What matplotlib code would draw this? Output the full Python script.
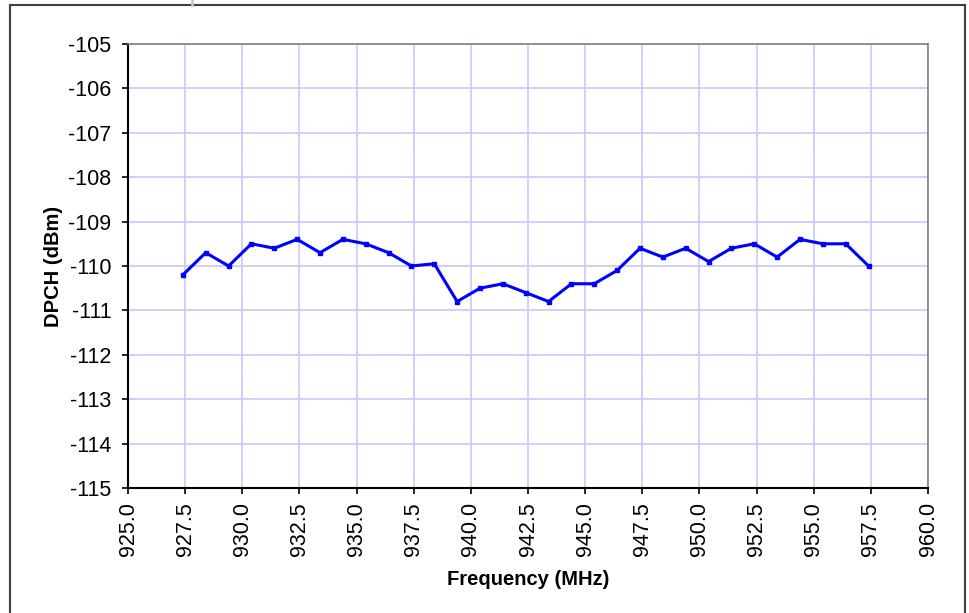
import numpy as np
import matplotlib
matplotlib.use('Agg')
import matplotlib.pyplot as plt
from matplotlib.lines import Line2D

# measured DPCH level vs frequency
freq = [927.4, 928.4, 929.4, 930.4, 931.4, 932.4, 933.4, 934.4, 935.4, 936.4,
        937.4, 938.4, 939.4, 940.4, 941.4, 942.4, 943.4, 944.4, 945.4, 946.4,
        947.4, 948.4, 949.4, 950.4, 951.4, 952.4, 953.4, 954.4, 955.4, 956.4,
        957.4]
dpch = [-110.2, -109.7, -110.0, -109.5, -109.6, -109.4, -109.7, -109.4, -109.5, -109.7,
        -110.0, -109.95, -110.8, -110.5, -110.4, -110.6, -110.8, -110.4, -110.4, -110.1,
        -109.6, -109.8, -109.6, -109.9, -109.6, -109.5, -109.8, -109.4, -109.5, -109.5,
        -110.0]

xticks = np.arange(925.0, 960.01, 2.5)
yticks = np.arange(-115, -104, 1)

plt.rcParams['font.family'] = ['Liberation Sans', 'DejaVu Sans']

W, H = 969, 613
fig = plt.figure(figsize=(W / 100, H / 100), dpi=100)
ax = fig.add_axes([128 / W, 1 - 488 / H, 800 / W, 444 / H])

ax.plot(freq, dpch, '-', color='#0000FF', lw=2.2, marker='s', ms=3.5, mec='#0000FF', mfc='#0000FF')

ax.set_xlim(925, 960)
ax.set_ylim(-115, -105)
ax.set_xticks(xticks)
ax.set_xticklabels(['%.1f' % v for v in xticks], rotation=90, fontsize=15.5)
ax.set_yticks(yticks)
ax.set_yticklabels(['%d' % v for v in yticks], fontsize=15.5)
ax.tick_params(direction='out', length=4, width=1.2, colors='black')
ax.tick_params(axis='y', pad=8)
ax.tick_params(axis='x', pad=6)
ax.grid(True, color='#CCCCFF', lw=1.3)
ax.set_axisbelow(True)

for s in ['top', 'right']:
    ax.spines[s].set_color('#808080')
    ax.spines[s].set_linewidth(1.2)
for s in ['left', 'bottom']:
    ax.spines[s].set_color('black')
    ax.spines[s].set_linewidth(1.5)

ax.set_xlabel('Frequency (MHz)', fontsize=14.5, fontweight='bold', labelpad=10)
ax.set_ylabel('DPCH (dBm)', fontsize=14.5, fontweight='bold', labelpad=4)

# chart area border
fig.add_artist(Line2D([10 / W, 10 / W], [0, 1 - 5 / H], color='#404040', lw=1.5))
fig.add_artist(Line2D([10 / W, 965 / W], [1 - 5 / H, 1 - 5 / H], color='#404040', lw=1.5))
fig.add_artist(Line2D([965 / W, 965 / W], [0, 1 - 5 / H], color='#404040', lw=1.5))
fig.add_artist(Line2D([192 / W, 192 / W], [1 - 5 / H, 1], color='#C8C8C8', lw=2))

plt.savefig('out.png', dpi=100)
